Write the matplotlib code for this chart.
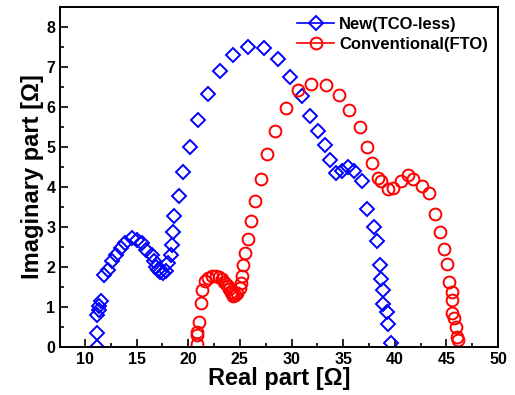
import numpy as np
import matplotlib.pyplot as plt
from matplotlib.lines import Line2D
from matplotlib.ticker import MultipleLocator

plt.rcParams['font.family'] = ['Liberation Sans', 'DejaVu Sans']
plt.rcParams['font.weight'] = 'bold'

# New (TCO-less) cell
new_re = [11.13, 11.2, 11.2, 11.35, 11.35, 11.55, 11.87, 12.26, 12.64, 13.0,
          13.45, 13.87, 14.52, 15.0, 15.49, 15.9, 16.46, 16.68, 16.9, 17.1,
          17.27, 17.52, 17.8, 18.06, 18.3, 18.45, 18.52, 18.6, 19.1, 19.5,
          20.2, 20.9, 21.87, 23.07, 24.36, 25.8, 27.3, 28.7, 29.9, 30.97,
          31.78, 32.6, 33.24, 33.72, 34.3, 34.85, 35.5, 36.1, 36.8, 37.3,
          37.97, 38.3, 38.56, 38.7, 38.87, 38.87, 39.2, 39.36, 39.6]
new_im = [0.0, 0.34, 0.8, 0.92, 1.02, 1.15, 1.8, 1.93, 2.14, 2.3,
          2.47, 2.6, 2.72, 2.68, 2.6, 2.43, 2.3, 2.14, 2.0, 1.93,
          1.88, 1.84, 1.9, 2.1, 2.3, 2.55, 2.87, 3.28, 3.78, 4.37,
          5.0, 5.67, 6.32, 6.91, 7.29, 7.5, 7.47, 7.19, 6.76, 6.27,
          5.78, 5.39, 5.05, 4.67, 4.36, 4.4, 4.5, 4.4, 4.15, 3.46,
          3.0, 2.64, 2.04, 1.7, 1.42, 1.06, 0.86, 0.57, 0.1]

# Conventional (FTO) cell
fto_re = [20.87, 20.8, 20.87, 21.07, 21.23, 21.36, 21.6, 21.9, 22.3, 22.68,
          23.0, 23.23, 23.45, 23.65, 23.8, 23.97, 24.13, 24.26, 24.36, 24.52,
          24.74, 25.0, 25.1, 25.17, 25.33, 25.5, 25.8, 26.1, 26.5, 27.0,
          27.65, 28.4, 29.5, 30.65, 31.88, 33.33, 34.6, 35.6, 36.6, 37.27,
          37.8, 38.33, 38.65, 39.3, 39.8, 40.56, 41.3, 41.78, 42.6, 43.3,
          43.9, 44.37, 44.8, 45.07, 45.27, 45.5, 45.5, 45.55, 45.7, 45.9,
          46.0, 46.1]
fto_im = [0.07, 0.29, 0.37, 0.63, 1.1, 1.42, 1.65, 1.72, 1.78, 1.78,
          1.74, 1.69, 1.63, 1.58, 1.51, 1.44, 1.37, 1.32, 1.27, 1.3,
          1.34, 1.47, 1.59, 1.78, 2.04, 2.35, 2.7, 3.14, 3.65, 4.21,
          4.83, 5.4, 5.97, 6.43, 6.58, 6.56, 6.31, 5.92, 5.5, 5.0,
          4.61, 4.23, 4.15, 3.96, 3.98, 4.16, 4.3, 4.21, 4.02, 3.85,
          3.33, 2.87, 2.45, 2.07, 1.63, 1.37, 1.16, 0.84, 0.71, 0.5,
          0.25, 0.17]

fig = plt.figure(figsize=(5.15, 3.95), dpi=100)
ax = fig.add_axes([0.117, 0.122, 0.85, 0.86])

blue_style = dict(color='blue', marker='D', ms=7.5, mfc='none', mec='blue', mew=1.4)
red_style = dict(color='red', marker='o', ms=8.5, mfc='none', mec='red', mew=1.4)

# markers only; the connecting line is hardly visible in the original
ax.plot(new_re, new_im, ls='none', **blue_style)
ax.plot(fto_re, fto_im, ls='none', **red_style)

ax.set_xlim(7.6, 50)
ax.set_ylim(0, 8.5)
ax.xaxis.set_major_locator(MultipleLocator(5))
ax.xaxis.set_minor_locator(MultipleLocator(2.5))
ax.yaxis.set_major_locator(MultipleLocator(1))
ax.yaxis.set_minor_locator(MultipleLocator(0.5))
ax.set_xticks(np.arange(10, 51, 5))
ax.tick_params(which='both', direction='in', top=False, right=False,
               labelsize=11.5, width=1.2)
ax.tick_params(which='major', length=6)
ax.tick_params(which='minor', length=3)
for s in ax.spines.values():
    s.set_linewidth(1.4)

ax.set_xlabel('Real part [Ω]', fontsize=17, fontweight='bold', labelpad=0)
ax.set_ylabel('Imaginary part [Ω]', fontsize=17, fontweight='bold', labelpad=2)

handles = [Line2D([], [], lw=1.2, **blue_style), Line2D([], [], lw=1.2, **red_style)]
ax.legend(handles, ['New(TCO-less)', 'Conventional(FTO)'], loc='upper right',
          frameon=False, fontsize=12, handlelength=2.2, handletextpad=0.3,
          borderaxespad=0.2, labelspacing=0.3)

fig.savefig('out.png', dpi=100)
